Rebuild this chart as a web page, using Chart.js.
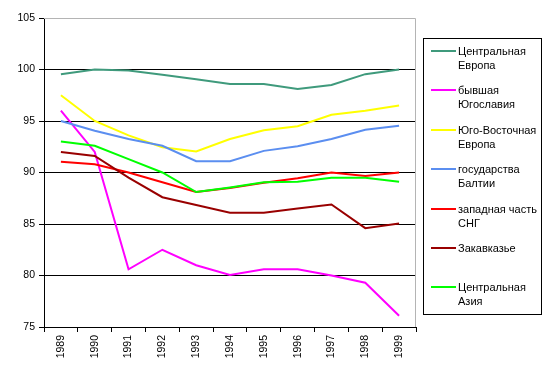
<!DOCTYPE html>
<html>
<head>
<meta charset="utf-8">
<script src="https://cdn.jsdelivr.net/npm/chart.js@4/dist/chart.umd.min.js"></script>
<style>
    html, body { margin: 0; padding: 0; background: #fff; }
    .wrap { position: relative; width: 549px; height: 376px; }
    .legend {
        position: absolute; left: 423px; top: 38px; width: 119px; height: 277px;
        border: 1px solid #000; box-sizing: border-box;
        font-family: "Liberation Sans", Arial, sans-serif; font-size: 11px; color: #000;
    }
    .legend .item { position: absolute; left: 0; width: 118px; }
    .legend .swatch { position: absolute; left: 7px; top: 6px; width: 25px; height: 2px; }
    .legend .txt { position: absolute; left: 34px; top: 0; line-height: 14px; white-space: nowrap; }
</style>
</head>
<body>
<div class="wrap">
    <canvas id="c" width="549" height="376"></canvas>
    <div class="legend" id="legend"></div>
</div>
<script>
// years on the category axis
var years = ['1989', '1990', '1991', '1992', '1993', '1994', '1995', '1996', '1997', '1998', '1999'];

// series (index)
var centralEurope  = [99.55, 100, 99.9, 99.5, 99.05, 98.6, 98.6, 98.1, 98.5, 99.55, 100];
var exYugoslavia   = [96.0, 92.0, 80.6, 82.5, 81.0, 80.05, 80.6, 80.6, 80.0, 79.3, 76.1];
var seEurope       = [97.5, 95.0, 93.6, 92.45, 92.05, 93.25, 94.1, 94.5, 95.6, 96.0, 96.5];
var baltics        = [95.0, 94.05, 93.25, 92.6, 91.1, 91.1, 92.1, 92.55, 93.25, 94.15, 94.55];
var westernCIS     = [91.05, 90.8, 90.0, 89.05, 88.1, 88.5, 89.0, 89.45, 90.0, 89.65, 90.0];
var transcaucasia  = [92.0, 91.6, 89.5, 87.6, 86.85, 86.1, 86.1, 86.5, 86.9, 84.6, 85.05];
var centralAsia    = [93.0, 92.6, 91.3, 90.0, 88.1, 88.55, 89.05, 89.1, 89.5, 89.5, 89.1];

var seriesNames = [
    ['Центральная', 'Европа'],
    ['бывшая', 'Югославия'],
    ['Юго-Восточная', 'Европа'],
    ['государства', 'Балтии'],
    ['западная часть', 'СНГ'],
    ['Закавказье'],
    ['Центральная', 'Азия']
];
var seriesData = [centralEurope, exYugoslavia, seEurope, baltics, westernCIS, transcaucasia, centralAsia];
var seriesColors = ['#3f9a7c', '#ff00ff', '#ffff00', '#5b8ef0', '#ff0000', '#990000', '#00ff00'];

// y ticks
var yMin = 75, yMax = 105, yStep = 5;

(function () {
    'use strict';

    var FONT = { family: '"Liberation Sans", Arial, sans-serif', size: 10.5 };

    // thin gray frame round the plot area (top and right edges)
    var plotFrame = {
        id: 'plotFrame',
        beforeDatasetsDraw: function (chart) {
            var a = chart.chartArea, ctx = chart.ctx;
            ctx.save();
            ctx.strokeStyle = '#b4b4b4';
            ctx.lineWidth = 1;
            ctx.beginPath();
            ctx.moveTo(a.left, a.top + 0.5);
            ctx.lineTo(a.right - 0.5, a.top + 0.5);
            ctx.lineTo(a.right - 0.5, a.bottom);
            ctx.stroke();
            ctx.restore();
        }
    };

    var datasets = [];
    for (var i = 0; i < seriesData.length; i++) {
        datasets.push({
            label: seriesNames[i].join(' '),
            data: seriesData[i],
            borderColor: seriesColors[i],
            backgroundColor: seriesColors[i],
            borderWidth: 2,
            pointRadius: 0,
            tension: 0,
            fill: false,
            order: seriesData.length - 1 - i
        });
    }

    new Chart(document.getElementById('c'), {
        type: 'line',
        data: { labels: years, datasets: datasets },
        plugins: [plotFrame],
        options: {
            responsive: false,
            animation: false,
            layout: { padding: { left: 0, right: 133, top: 18, bottom: 0 } },
            plugins: { legend: { display: false }, tooltip: { enabled: false } },
            scales: {
                x: {
                    offset: true,
                    afterFit: function (s) { s.height = 49; },
                    grid: { offset: true, drawOnChartArea: false, drawTicks: true, tickLength: 5, tickColor: '#000' },
                    border: { display: true, color: '#000' },
                    ticks: { color: '#000', font: FONT, minRotation: 90, maxRotation: 90, padding: 3, autoSkip: false }
                },
                y: {
                    min: yMin,
                    max: yMax,
                    afterFit: function (s) { s.width = 44; },
                    grid: {
                        color: function (ctx) { return ctx.tick && ctx.tick.value === yMax ? 'rgba(0,0,0,0)' : '#000'; },
                        tickColor: '#000',
                        tickLength: 5
                    },
                    border: { display: true, color: '#000' },
                    ticks: { color: '#000', font: FONT, stepSize: yStep, padding: 4 }
                }
            }
        }
    });

    // legend, two lines per entry where the name wraps
    var legend = document.getElementById('legend');
    for (var k = 0; k < seriesNames.length; k++) {
        var item = document.createElement('div');
        item.className = 'item';
        item.style.top = (5 + k * 39.4) + 'px';
        var sw = document.createElement('div');
        sw.className = 'swatch';
        sw.style.background = seriesColors[k];
        var txt = document.createElement('div');
        txt.className = 'txt';
        txt.innerHTML = seriesNames[k].join('<br>');
        item.appendChild(sw);
        item.appendChild(txt);
        legend.appendChild(item);
    }
})();
</script>
</body>
</html>
